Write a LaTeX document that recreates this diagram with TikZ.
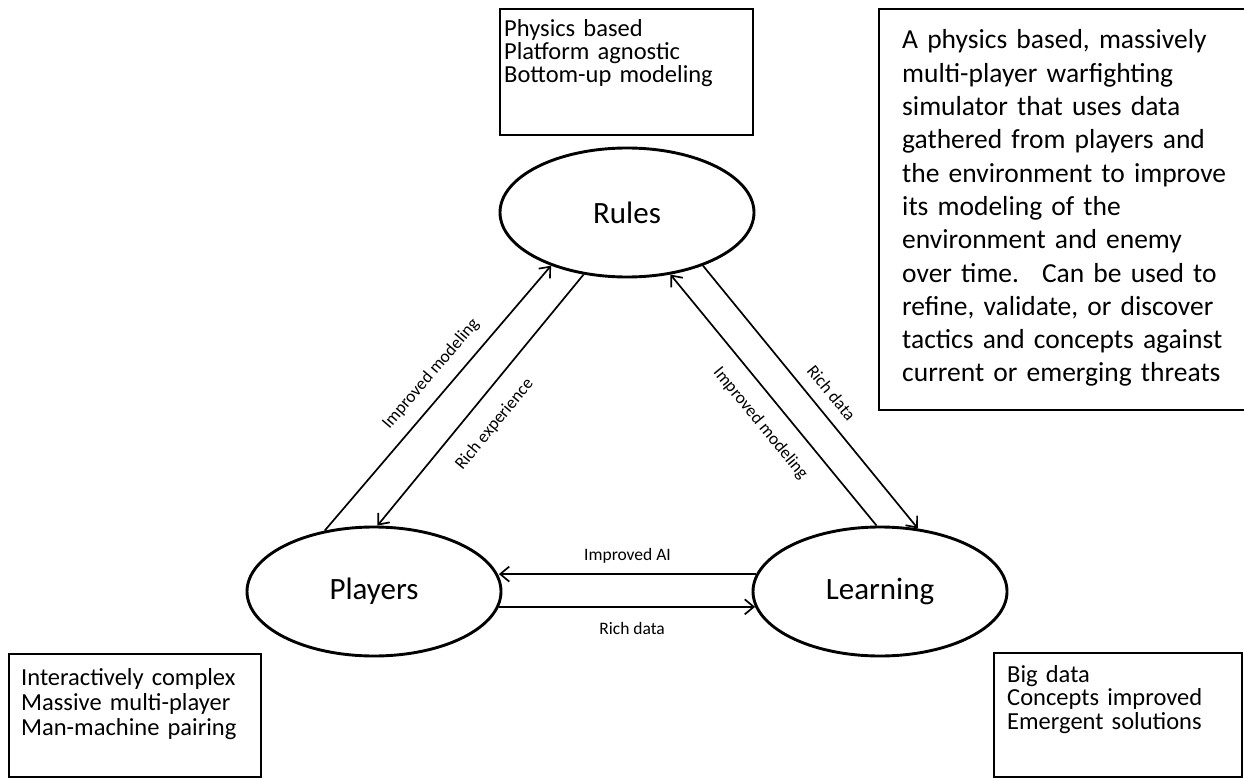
\documentclass[tikz,border=0pt]{standalone}
\usepackage{fontspec}
\setmainfont{Carlito}
\usetikzlibrary{shapes.geometric,arrows.meta}
\begin{document}
\begin{tikzpicture}[x=1pt,y=-1pt,
  hub/.style={ellipse,draw,line width=2.9pt,minimum width=254pt,minimum height=129pt,inner sep=0pt,font=\fontsize{31pt}{36pt}\selectfont},
  frame/.style={draw,line width=2.4pt,anchor=north west,inner sep=0pt},
  notes/.style={anchor=base west,inner sep=0pt,align=left,text width=#1},
  flow/.style={line width=1.7pt,-{Straight Barb[length=9pt,width=15pt]}},
  lab/.style={font=\fontsize{17.5pt}{20pt}\selectfont,inner sep=0pt},
]
\useasboundingbox (0,0) rectangle (1244,778);

% hubs
\node[hub] (rules) at (627,212.5) {Rules};
\node[hub] (players) at (374,591.5) {Players};
\node[hub] (learning) at (880,591.5) {Learning};

% boxes
\node[frame,minimum width=253pt,minimum height=126pt] (rulesbox) at (499,8) {};
\node[notes=245pt,font=\fontsize{24.5pt}{23pt}\selectfont] (rulestext) at (504,37)
  {Physics based\\Platform agnostic\\Bottom-up modeling};

\node[frame,minimum width=366pt,minimum height=401pt] (aboutbox) at (878,8) {};
\node[notes=340pt,font=\fontsize{27.5pt}{33.3pt}\selectfont] (abouttext) at (902,49)
  {A physics based, massively\\multi-player warfighting\\simulator that uses data\\gathered from players and\\the environment to improve\\its modeling of the\\environment and enemy\\over time.~ Can be used to\\refine, validate, or discover\\tactics and concepts against\\current or emerging threats};

\node[frame,minimum width=252pt,minimum height=123pt] (playersbox) at (8,653) {};
\node[notes=240pt,font=\fontsize{24.5pt}{25pt}\selectfont] (playerstext) at (21,685)
  {Interactively complex\\Massive multi-player\\Man-machine pairing};

\node[frame,minimum width=248pt,minimum height=124pt] (learningbox) at (993,652) {};
\node[notes=230pt,font=\fontsize{24.5pt}{23.5pt}\selectfont] (learningtext) at (1007,682)
  {Big data\\Concepts improved\\Emergent solutions};

% connectors
\draw[flow] (players.129) -- node[lab,sloped,pos=0.54,above=12.5pt] {Improved modeling} (rules.215);
\draw[flow] (rules.235) -- node[lab,sloped,pos=0.53,below=18pt] {Rich experience} (players.87.5);
\draw[flow] (rules.325.7) -- node[lab,sloped,pos=0.53,above=12pt] {Rich data} (learning.59.8);
\draw[flow] (learning.93.5) -- node[lab,sloped,pos=0.47,below=16.6pt] {Improved modeling} (rules.305.8);
\draw[flow] (learning.172.65) -- node[lab,pos=0.5,above=10pt] {Improved AI} (players.7.35 |- learning.172.65);
\draw[flow] (players.-7.35) -- node[lab,pos=0.52,below=14.3pt] {Rich data} (learning.187.35 |- players.-7.35);
\end{tikzpicture}
\end{document}
